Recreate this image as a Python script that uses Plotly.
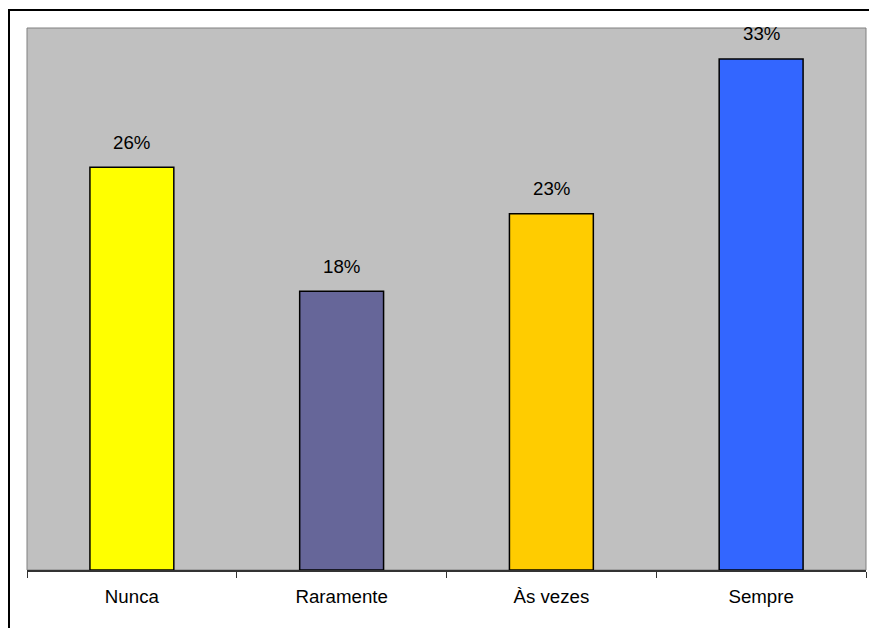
import plotly.graph_objects as go

categories = ["Nunca", "Raramente", "Às vezes", "Sempre"]
values = [26, 18, 23, 33]
labels = ["26%", "18%", "23%", "33%"]
colors = ["#FFFF00", "#666699", "#FFCC00", "#3366FF"]

FONT = "Liberation Sans, Arial, sans-serif"

W, H = 869, 628
L, T, PW, PH = 27, 28, 839, 542

fig = go.Figure()
fig.add_trace(go.Bar(
    x=categories, y=values,
    marker=dict(color=colors, line=dict(color="black", width=1.5)),
    width=0.4,
    hoverinfo="skip",
))

for c, v, t in zip(categories, values, labels):
    fig.add_annotation(x=c, y=v, text=t, showarrow=False, yanchor="middle",
                       yshift=25, font=dict(family=FONT, size=18.7, color="black"))

fig.update_layout(
    width=W, height=H,
    margin=dict(l=L, r=W - L - PW, t=T, b=H - T - PH, pad=0),
    paper_bgcolor="white",
    plot_bgcolor="#C0C0C0",
    showlegend=False,
    hovermode=False,
    font=dict(family=FONT, size=18.7, color="black"),
    xaxis=dict(type="category", tickson="boundaries", ticks="outside", ticklen=6,
               tickcolor="#333333", tickwidth=1, showline=True, linecolor="#333333",
               linewidth=1.5, showgrid=False, mirror=False,
               ticklabelstandoff=9,
               tickfont=dict(family=FONT, size=18.7, color="black"),
               range=[-0.5, 3.5]),
    yaxis=dict(range=[0, 35], showticklabels=False, showgrid=False, zeroline=False,
               showline=False, ticks=""),
    shapes=[
        dict(type="rect", xref="paper", yref="paper", x0=0, x1=1, y0=0, y1=1,
             line=dict(color="#808080", width=1), layer="below"),
        dict(type="rect", xref="paper", yref="paper",
             x0=(9 - L) / PW, x1=1.3, y0=-0.3, y1=(PH + T - 10) / PH,
             line=dict(color="black", width=2)),
    ],
)

fig.write_html(
    "out.html",
    config={"displayModeBar": False, "staticPlot": True},
    post_script="document.body.style.margin='0';document.body.style.overflow='hidden';",
)
